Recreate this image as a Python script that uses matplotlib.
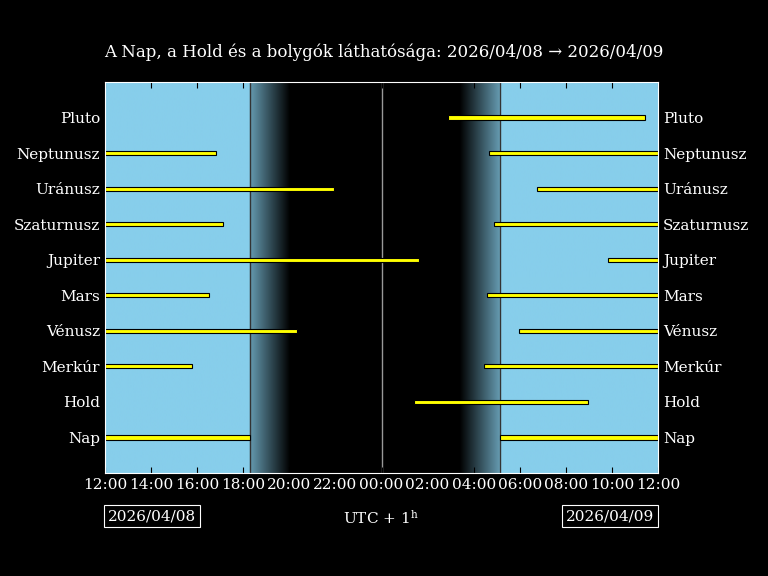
import matplotlib
matplotlib.use("Agg")
import matplotlib.pyplot as plt
import numpy as np
from matplotlib.colors import to_rgb

plt.rcParams['font.family'] = ['DejaVu Serif']
plt.rcParams['mathtext.fontset'] = 'dejavuserif'

bodies = ["Nap", "Hold", "Merkúr", "Vénusz", "Mars", "Jupiter", "Szaturnusz", "Uránusz", "Neptunusz", "Pluto"]
# visibility intervals in hours after 2026/04/08 12:00
intervals = {
    "Nap": [(0, 6.29), (17.14, 24)],
    "Hold": [(13.41, 20.96)],
    "Merkúr": [(0, 3.78), (16.45, 24)],
    "Vénusz": [(0, 8.33), (17.97, 24)],
    "Mars": [(0, 4.51), (16.58, 24)],
    "Jupiter": [(0, 13.63), (21.83, 24)],
    "Szaturnusz": [(0, 5.12), (16.88, 24)],
    "Uránusz": [(0, 9.94), (18.75, 24)],
    "Neptunusz": [(0, 4.82), (16.67, 24)],
    "Pluto": [(14.89, 23.44)],
}
sunset, dusk_end, dawn_start, sunrise = 6.29, 8.03, 15.4, 17.14
tick_labels = ["12:00", "14:00", "16:00", "18:00", "20:00", "22:00", "00:00",
               "02:00", "04:00", "06:00", "08:00", "10:00", "12:00"]

fig = plt.figure(figsize=(7.68, 5.76), dpi=100, facecolor="black")
ax = fig.add_axes([105/768, 1-473/576, 553/768, 391/576])
ax.set_facecolor("black")

ylo, yhi = -1, len(bodies)
xs = np.linspace(0, 24, 2000)
sky = np.array(to_rgb("skyblue"))
f = np.zeros_like(xs)
f[xs <= sunset] = 1
f[xs >= sunrise] = 1
m = (xs > sunset) & (xs < dusk_end)
f[m] = 0.75 * (1 - (xs[m] - sunset) / (dusk_end - sunset))
m = (xs > dawn_start) & (xs < sunrise)
f[m] = 0.75 * ((xs[m] - dawn_start) / (sunrise - dawn_start))
img = (f[:, None] * sky[None, :])[None, :, :]
ax.imshow(img, extent=[0, 24, ylo, yhi], aspect="auto", zorder=0)

ax.vlines([sunset, sunrise], ylo, yhi, color="#333333", lw=1, zorder=1)
ax.vlines([12], ylo, yhi, color="#999999", lw=1, zorder=1)

for i, b in enumerate(bodies):
    for s, e in intervals[b]:
        ax.barh(i, e - s, left=s, height=0.12, color="yellow", edgecolor="black", lw=0.8, zorder=2)

ax.set_xlim(0, 24)
ax.set_ylim(ylo, yhi)
ax.set_xticks(range(0, 25, 2))
ax.set_xticklabels(tick_labels, color="white", fontsize=11)
ax.set_yticks(range(len(bodies)))
ax.set_yticklabels(bodies, color="white", fontsize=11)
ax.tick_params(axis="x", direction="in", top=True, color="black", length=4)
ax.tick_params(axis="y", length=0, labelright=True)
for sp in ax.spines.values():
    sp.set_color("white")

fig.text(0.5, 1-52/576, "A Nap, a Hold és a bolygók láthatósága: 2026/04/08 → 2026/04/09",
         color="white", ha="center", va="center", fontsize=12)
fig.text(381/768, 1-518/576, "UTC + 1$^\\mathrm{h}$", color="white", ha="center", va="center", fontsize=11)
box = dict(facecolor="black", edgecolor="white", lw=0.8, pad=3)
fig.text(152/768, 1-516/576, "2026/04/08", color="white", ha="center", va="center", fontsize=11, bbox=box)
fig.text(610/768, 1-516/576, "2026/04/09", color="white", ha="center", va="center", fontsize=11, bbox=box)

fig.savefig("out.png", dpi=100, facecolor="black")
